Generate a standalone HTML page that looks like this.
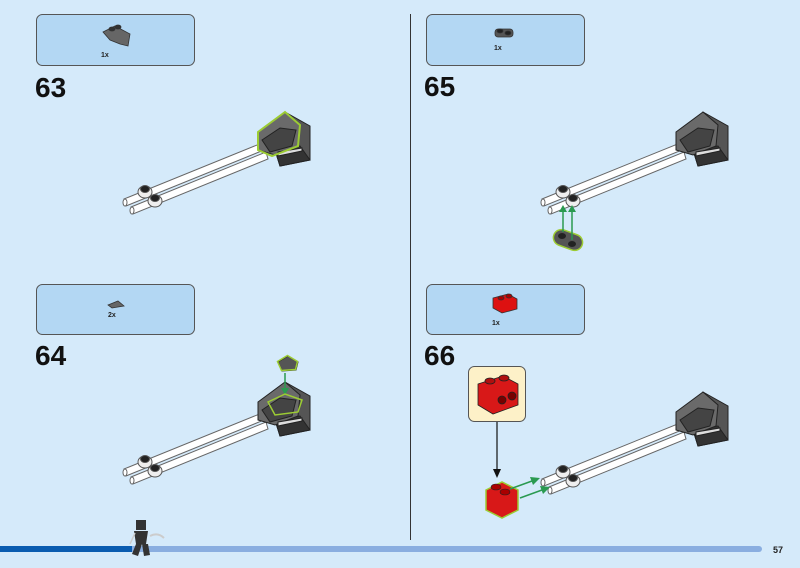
<!DOCTYPE html>
<html><head><meta charset="utf-8"><style>
html,body{margin:0;padding:0;background:#d5eafa;}
svg{display:block;}
text{font-family:"Liberation Sans",sans-serif;}
</style></head><body>
<svg width="800" height="568" viewBox="0 0 800 568" xmlns="http://www.w3.org/2000/svg">
<defs>
<g id="model">
  <!-- rods -->
  <g stroke="#666" stroke-width="1">
    <path d="M124,199 L262,143 L264,150 L126,206 Z" fill="#fff"/>
    <path d="M131,207 L266,152 L268,159 L133,214 Z" fill="#fff"/>
    <ellipse cx="125" cy="202.5" rx="2" ry="3.5" fill="#fff"/>
    <ellipse cx="132" cy="210.5" rx="2" ry="3.5" fill="#fff"/>
  </g>
  <!-- connector studs -->
  <g stroke="#555" stroke-width="1">
    <ellipse cx="145" cy="192" rx="7" ry="6" fill="#eee"/>
    <ellipse cx="145" cy="189" rx="4.5" ry="3.5" fill="#222"/>
    <ellipse cx="155" cy="201" rx="7" ry="6" fill="#eee"/>
    <ellipse cx="155" cy="198" rx="4.5" ry="3.5" fill="#222"/>
  </g>
  <!-- block -->
  <g stroke="#222" stroke-width="1">
    <path d="M285,112 L310,126 L310,160 L280,166 L275,150 Z" fill="#555"/>
    <path d="M275,150 L300,146 L310,160 L280,166 Z" fill="#333"/>
    <path d="M258,132 L285,112 L300,125 L298,146 L275,155 L258,150 Z" fill="#6a6a6a"/>
    <path d="M262,140 L280,128 L296,130 L292,146 L270,152 Z" fill="#444"/>
    <path d="M278,152 L302,148 L302,151 L278,156 Z" fill="#ddd"/>
  </g>
</g>
</defs>

<!-- divider -->
<line x1="410.5" y1="14" x2="410.5" y2="540" stroke="#333" stroke-width="1"/>

<!-- parts boxes -->
<g fill="#b3d7f3" stroke="#555" stroke-width="1">
  <rect x="36.5" y="14.5" width="158" height="51" rx="6"/>
  <rect x="426.5" y="14.5" width="158" height="51" rx="6"/>
  <rect x="36.5" y="284.5" width="158" height="50" rx="6"/>
  <rect x="426.5" y="284.5" width="158" height="50" rx="6"/>
</g>
<!-- parts -->
<g stroke="#333" stroke-width="0.8">
  <path d="M103,32 L115,26 L130,34 L128,46 L120,44 L110,40 Z" fill="#666"/>
  <ellipse cx="112" cy="29" rx="3" ry="2" fill="#333"/>
  <ellipse cx="118" cy="27" rx="3" ry="2" fill="#333"/>
  <rect x="495" y="29" width="18" height="8" rx="3" fill="#555"/>
  <ellipse cx="500" cy="31" rx="3" ry="2" fill="#222"/>
  <ellipse cx="508" cy="33" rx="3" ry="2" fill="#222"/>
  <path d="M108,305 L118,301 L124,306 L112,308 Z" fill="#666"/>
  <path d="M493,298 L508,294 L517,299 L517,309 L502,313 L493,308 Z" fill="#d11"/>
  <ellipse cx="501" cy="298" rx="3" ry="2" fill="#a00"/>
  <ellipse cx="509" cy="296" rx="3" ry="2" fill="#a00"/>
</g>
<g font-size="7" fill="#222" font-weight="bold">
  <text x="101" y="57">1x</text>
  <text x="494" y="50">1x</text>
  <text x="108" y="317">2x</text>
  <text x="492" y="325">1x</text>
</g>

<!-- step numbers -->
<g font-size="28" font-weight="bold" fill="#111">
  <text x="35" y="97">63</text>
  <text x="424" y="96">65</text>
  <text x="35" y="365">64</text>
  <text x="424" y="365">66</text>
</g>

<!-- models -->
<use href="#model"/>
<path d="M258,132 L285,112 L300,125 L298,146 L272,156 L258,150 Z" fill="none" stroke="#9ccc33" stroke-width="2"/>
<use href="#model" transform="translate(0,270)"/>
<use href="#model" transform="translate(418,0)"/>
<use href="#model" transform="translate(418,280)"/>

<!-- step 64 piece + arrow -->
<path d="M278,362 L288,356 L298,362 L296,370 L282,371 Z" fill="#555" stroke="#222"/>
<path d="M278,362 L288,356 L298,362 L296,370 L282,371 Z" fill="none" stroke="#9ccc33" stroke-width="1.5" transform="translate(-0.5,-0.5)"/>
<line x1="285" y1="373" x2="285" y2="390" stroke="#2a9a50" stroke-width="1.5"/>
<path d="M281,388 L289,388 L285,395 Z" fill="#2a9a50"/>
<path d="M268,402 L285,394 L302,400 L298,412 L275,415 Z" fill="none" stroke="#9ccc33" stroke-width="1.5"/>

<!-- step 65 piece + arrows -->
<rect x="553" y="232" width="30" height="16" rx="8" fill="#555" stroke="#9ccc33" stroke-width="1.5" transform="rotate(20 568 240)"/>
<ellipse cx="562" cy="236" rx="4" ry="3" fill="#222"/>
<ellipse cx="572" cy="244" rx="4" ry="3" fill="#222"/>
<g stroke="#2a9a50" stroke-width="1.5">
  <line x1="563" y1="232" x2="563" y2="212"/>
  <line x1="572" y1="240" x2="572" y2="212"/>
</g>
<path d="M559,212 L567,212 L563,205 Z M568,212 L576,212 L572,205 Z" fill="#2a9a50"/>

<!-- step 66 callout -->
<rect x="468.5" y="366.5" width="57" height="55" rx="6" fill="#fdf1c8" stroke="#555"/>
<g stroke="#222" stroke-width="0.8">
  <path d="M478,384 L503,376 L518,384 L518,405 L493,414 L478,405 Z" fill="#d81818"/>
  <ellipse cx="490" cy="381" rx="5" ry="3" fill="#b01010"/>
  <ellipse cx="504" cy="378" rx="5" ry="3" fill="#b01010"/>
  <circle cx="502" cy="400" r="4" fill="#700"/>
  <circle cx="512" cy="396" r="4" fill="#700"/>
</g>
<line x1="497" y1="422" x2="497" y2="470" stroke="#111" stroke-width="1.2"/>
<path d="M493,469 L501,469 L497,478 Z" fill="#111"/>
<path d="M486,490 L502,482 L518,490 L518,510 L502,518 L486,510 Z" fill="#d81818" stroke="#9ccc33" stroke-width="1.5"/>
<ellipse cx="496" cy="487" rx="5" ry="3" fill="#a00" stroke="#222" stroke-width="0.6"/>
<ellipse cx="505" cy="492" rx="5" ry="3" fill="#a00" stroke="#222" stroke-width="0.6"/>
<g stroke="#2a9a50" stroke-width="1.5">
  <line x1="510" y1="489" x2="532" y2="481"/>
  <line x1="520" y1="498" x2="542" y2="490"/>
</g>
<path d="M530,477 L540,478 L533,485 Z M540,486 L550,487 L543,494 Z" fill="#2a9a50"/>

<!-- bottom bar -->
<rect x="0" y="546" width="762" height="6" rx="3" fill="#8aaee0"/>
<rect x="0" y="546" width="132" height="6" fill="#0a5cb0"/>
<!-- minifig -->
<g fill="#333">
  <rect x="136" y="520" width="10" height="10"/>
  <path d="M134,531 L148,531 L146,544 L136,544 Z"/>
  <path d="M136,544 L142,544 L138,556 L132,554 Z"/>
  <path d="M142,544 L148,544 L150,555 L144,556 Z"/>
</g>
<path d="M150,536 Q158,532 164,538" fill="none" stroke="#ccc" stroke-width="2"/>
<path d="M130,544 L135,533" stroke="#ccc" stroke-width="1.5"/>

<text x="773" y="553" font-size="9" font-weight="bold" fill="#222">57</text>
</svg>
</body></html>
